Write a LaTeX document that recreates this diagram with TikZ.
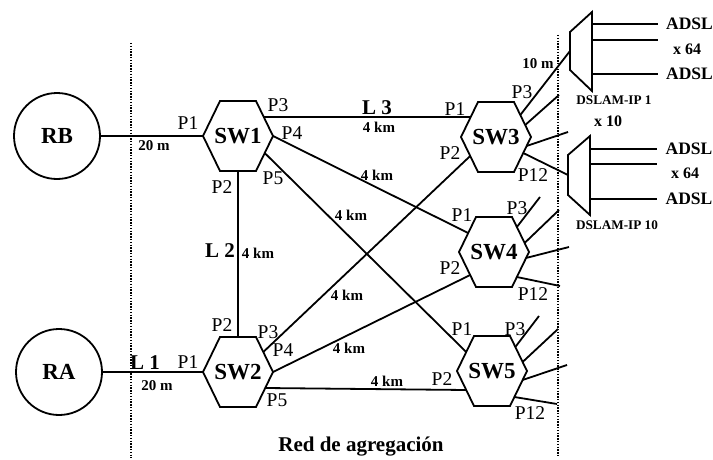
\documentclass[tikz,border=0pt]{standalone}
\usepackage{fontspec}
\setmainfont{Liberation Serif}
\usetikzlibrary{calc}
\newcommand{\hexat}[1]{\draw[ln] ($(#1)+(-35,0)$) -- ($(#1)+(-18,-35)$) -- ($(#1)+(18,-35)$) -- ($(#1)+(35,0)$) -- ($(#1)+(18,35)$) -- ($(#1)+(-18,35)$) -- cycle;}
\begin{document}
\begin{tikzpicture}[x=1pt,y=-1pt,
  ln/.style={line width=1.8pt, line join=miter},
  dots/.style={line width=1.5pt, dash pattern=on 1.4pt off 1.4pt},
  router/.style={circle, draw, line width=1.8pt, minimum size=86pt, inner sep=0pt, font=\fontsize{23}{25}\selectfont\bfseries},
  swnode/.style={inner sep=0pt, minimum width=70pt, minimum height=70pt, font=\fontsize{23}{25}\selectfont\bfseries},
  port/.style={inner sep=0pt, font=\fontsize{19.5}{21}\selectfont},
  dist/.style={inner sep=0pt, font=\fontsize{15}{17}\selectfont\bfseries},
  lname/.style={inner sep=0pt, font=\fontsize{21}{23}\selectfont\bfseries},
  adsl/.style={inner sep=0pt, font=\fontsize{17.5}{19}\selectfont\bfseries},
  mult/.style={inner sep=0pt, font=\fontsize{16}{18}\selectfont\bfseries},
  dslamlbl/.style={inner sep=0pt, font=\fontsize{13.2}{15}\selectfont\bfseries},
]
\useasboundingbox (0,0) rectangle (713,460);

% dotted boundaries
\coordinate (lt) at (131,43);
\coordinate (lb) at (131,458);
\coordinate (rt) at (558,35);
\coordinate (rb) at (558,456);
\draw[dots] (lt) -- (lb);
\draw[dots] (rt) -- (rb);

% routers
\node[router] (RB) at (57,136) {RB};
\node[router] (RA) at (59,372) {RA};

% switches
\node[swnode] (sw1) at (238,136) {SW1};
\node[swnode] (sw2) at (238,372) {SW2};
\node[swnode] (sw3) at (496,137) {SW3};
\node[swnode] (sw4) at (494,252) {SW4};
\node[swnode] (sw5) at (492,371) {SW5};
\hexat{sw1}\hexat{sw2}\hexat{sw3}\hexat{sw4}\hexat{sw5}

% ports
\coordinate (s1p1) at ($(sw1)+(-35,0)$);
\coordinate (s1p2) at ($(sw1)+(0,35)$);
\coordinate (s1p3) at ($(sw1)+(25.8,-19)$);
\coordinate (s1p4) at ($(sw1)+(35,0)$);
\coordinate (s1p5) at ($(sw1)+(26.7,17)$);

\coordinate (s2p1) at ($(sw2)+(-35,0)$);
\coordinate (s2p2) at ($(sw2)+(0,-35)$);
\coordinate (s2p3) at ($(sw2)+(25.3,-20)$);
\coordinate (s2p4) at ($(sw2)+(35,0)$);
\coordinate (s2p5) at ($(sw2)+(27.2,16)$);

\coordinate (s3p1) at ($(sw3)+(-25.3,-20)$);
\coordinate (s3p2) at ($(sw3)+(-25.8,19)$);
\coordinate (s3p3) at ($(sw3)+(24.3,-22)$);
\coordinate (s3pa) at ($(sw3)+(29.2,-12)$);
\coordinate (s3pb) at ($(sw3)+(30.6,9)$);
\coordinate (s3p12) at ($(sw3)+(27.2,16)$);

\coordinate (s4p1) at ($(sw4)+(-25.8,-19)$);
\coordinate (s4p2) at ($(sw4)+(-23.8,23)$);
\coordinate (s4p3) at ($(sw4)+(22.9,-25)$);
\coordinate (s4pa) at ($(sw4)+(30.6,-9)$);
\coordinate (s4pb) at ($(sw4)+(32,6)$);
\coordinate (s4p12) at ($(sw4)+(22.9,25)$);

\coordinate (s5p1) at ($(sw5)+(-25.8,-19)$);
\coordinate (s5p2) at ($(sw5)+(-25.8,19)$);
\coordinate (s5p3) at ($(sw5)+(23.3,-24)$);
\coordinate (s5pa) at ($(sw5)+(30.6,-9)$);
\coordinate (s5pb) at ($(sw5)+(30.6,9)$);
\coordinate (s5p12) at ($(sw5)+(22.4,26)$);

% DSLAMs
\coordinate (d1a) at (570,32);
\coordinate (d1b) at (592,12);
\coordinate (d1c) at (592,91);
\coordinate (d1d) at (570,70);
\coordinate (d1in) at (570,51);
\draw[ln] (d1a) -- (d1b) -- (d1c) -- (d1d) -- cycle;
\coordinate (d10a) at (568,155);
\coordinate (d10b) at (590,136);
\coordinate (d10c) at (590,215);
\coordinate (d10d) at (568,195);
\coordinate (d10in) at (568,175);
\draw[ln] (d10a) -- (d10b) -- (d10c) -- (d10d) -- cycle;

% DSLAM outputs
\foreach \y/\n in {24/a,40/b,74/c}{
  \coordinate (o1\n) at (592,\y);
  \coordinate (e1\n) at (658,\y);
  \draw[ln] (o1\n) -- (e1\n);
}
\foreach \y/\n in {149/a,164/b,199/c}{
  \coordinate (o10\n) at (590,\y);
  \coordinate (e10\n) at (657,\y);
  \draw[ln] (o10\n) -- (e10\n);
}

% free ends
\coordinate (f3a) at (559,95);
\coordinate (f3b) at (568,132);
\coordinate (f4a) at (540,197);
\coordinate (f4b) at (559,210);
\coordinate (f4c) at (569,247);
\coordinate (f4d) at (560,286);
\coordinate (f5a) at (539,316);
\coordinate (f5b) at (558,329);
\coordinate (f5c) at (567,365);
\coordinate (f5d) at (557,404);

% links
\draw[ln] (RB.east) -- (s1p1);
\draw[ln] (RA.east) -- (s2p1);
\draw[ln] (s1p2) -- (s2p2);
\draw[ln] (s1p3) -- (s3p1);
\draw[ln] (s1p4) -- (s4p1);
\draw[ln] (s1p5) -- (s5p1);
\draw[ln] (s2p3) -- (s3p2);
\draw[ln] (s2p4) -- (s4p2);
\draw[ln] (s2p5) -- (s5p2);

\draw[ln] (s3p3) -- (d1in);
\draw[ln] (s3pa) -- (f3a);
\draw[ln] (s3pb) -- (f3b);
\draw[ln] (s3p12) -- (d10in);
\draw[ln] (s4p3) -- (f4a);
\draw[ln] (s4pa) -- (f4b);
\draw[ln] (s4pb) -- (f4c);
\draw[ln] (s4p12) -- (f4d);
\draw[ln] (s5p3) -- (f5a);
\draw[ln] (s5pa) -- (f5b);
\draw[ln] (s5pb) -- (f5c);
\draw[ln] (s5p12) -- (f5d);

% port labels
\node[port] (l1p1) at (188,123) {P1};
\node[port] (l1p3) at (278,105) {P3};
\node[port] (l1p4) at (292,133) {P4};
\node[port] (l1p5) at (273,178) {P5};
\node[port] (l1p2) at (222,187) {P2};

\node[port] (l2p2) at (222,325) {P2};
\node[port] (l2p3) at (268,332) {P3};
\node[port] (l2p4) at (283,350) {P4};
\node[port] (l2p1) at (188,362) {P1};
\node[port] (l2p5) at (277,400) {P5};

\node[port] (l3p1) at (455,109) {P1};
\node[port] (l3p3) at (522,92) {P3};
\node[port] (l3p2) at (450,153) {P2};
\node[port] (l3p12) at (533,175) {P12};

\node[port] (l4p1) at (462,215) {P1};
\node[port] (l4p3) at (517,208) {P3};
\node[port] (l4p2) at (450,268) {P2};
\node[port] (l4p12) at (533,294) {P12};

\node[port] (l5p1) at (462,329) {P1};
\node[port] (l5p3) at (515,329) {P3};
\node[port] (l5p2) at (442,379) {P2};
\node[port] (l5p12) at (530,413) {P12};

% distances and link names
\node[dist] (d20b) at (154,146) {20 m};
\node[dist] (d20a) at (157,386) {20 m};
\node[lname] (L1) at (145,363) {L 1};
\node[lname] (L2) at (220,251) {L 2};
\node[dist] (k2) at (258,253) {4 km};
\node[lname] (L3) at (377,108) {L 3};
\node[dist] (k3) at (379,127) {4 km};
\node[dist] (k14) at (377,175) {4 km};
\node[dist] (k15) at (351,215) {4 km};
\node[dist] (k23) at (347,295) {4 km};
\node[dist] (k24) at (349,348) {4 km};
\node[dist] (k25) at (387,381) {4 km};
\node[dist] (d10m) at (538,64) {10 m};

% DSLAM labels
\node[adsl] (a1) at (689.5,24) {ADSL};
\node[adsl] (a2) at (689.5,74) {ADSL};
\node[mult] (m1) at (687,49) {x 64};
\node[dslamlbl] (dl1) at (614,100) {DSLAM-IP 1};
\node[mult] (m10) at (608,121) {x 10};
\node[adsl] (a3) at (689,149) {ADSL};
\node[adsl] (a4) at (689,199) {ADSL};
\node[mult] (m2) at (685,173) {x 64};
\node[dslamlbl] (dl10) at (617,225) {DSLAM-IP 10};

\node[lname] (red) at (361,447) {Red de agregación};
\end{tikzpicture}
\end{document}
